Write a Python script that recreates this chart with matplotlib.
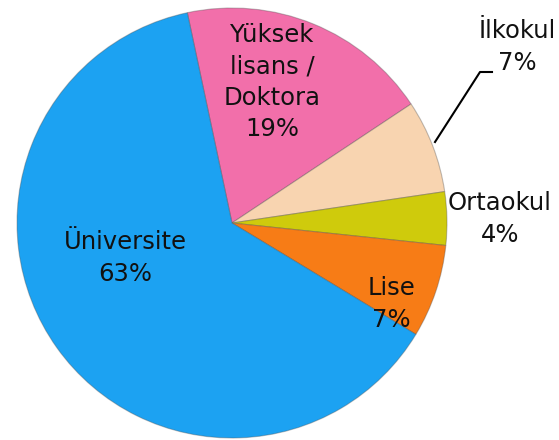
import matplotlib
matplotlib.use("Agg")
import matplotlib.pyplot as plt

labels = ["Yüksek\nlisans /\nDoktora", "İlkokul", "Ortaokul", "Lise", "Üniversite"]
values = [19, 7, 4, 7, 63]
colors = ["#F26FAA", "#F8D4B0", "#CFCB0C", "#F77C16", "#1CA2F2"]

W, H = 559, 440
fig = plt.figure(figsize=(W / 100, H / 100), dpi=100)
ax = fig.add_axes([0, 0, 1, 1])
ax.set_xlim(0, W)
ax.set_ylim(0, H)
ax.set_aspect("equal")
ax.axis("off")

cx, cy, r = 232, H - 223, 215
wedges, _ = ax.pie(values, colors=colors, startangle=102, counterclock=False,
                   center=(cx, cy), radius=r,
                   wedgeprops=dict(edgecolor=(0.3, 0.3, 0.3, 0.35), linewidth=0.8))
ax.set_xlim(0, W)
ax.set_ylim(0, H)

fs = 17.5
font = dict(family="DejaVu Sans", fontsize=fs, color="#111111", ha="center", va="center",
            linespacing=1.38)

ax.text(272, H - 82, f"{labels[0]}\n{values[0]}%", **font)
ax.text(125, H - 258, f"{labels[4]}\n{values[4]}%", **font)
ax.text(391, H - 304, f"{labels[3]}\n{values[3]}%", **font)
ax.text(500, H - 219, f"{labels[2]}\n{values[2]}%", **font)
ax.text(517, H - 47, f"{labels[1]}\n{values[1]}%", **font)

ax.plot([435, 480, 492], [H - 142, H - 72, H - 72], color="black", lw=1.5)

fig.savefig("out.png", dpi=100)
